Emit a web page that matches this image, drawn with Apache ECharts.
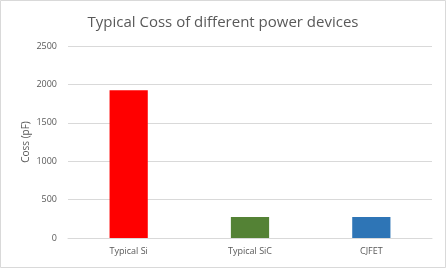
<!DOCTYPE html>
<html><head><meta charset="utf-8">
<script src="https://cdn.jsdelivr.net/npm/echarts@6/dist/echarts.min.js"></script>
<style>html,body{margin:0;padding:0;background:#fff}#c{width:446px;height:268px}</style>
</head><body><div id="c"></div>
<script>
const categories = ['Typical Si', 'Typical SiC', 'CJFET'];
const values = [1925, 275, 275];
const barColors = ['#FF0000', '#548235', '#2E75B6'];
const yTicks = [0, 500, 1000, 1500, 2000, 2500];

const chart = echarts.init(document.getElementById('c'), null, {renderer: 'canvas'});
chart.setOption({
  animation: false,
  backgroundColor: '#fff',
  textStyle: {fontFamily: 'Open Sans'},
  graphic: [{type: 'rect', shape: {x: 0.5, y: 0.5, width: 445, height: 267}, style: {fill: 'none', stroke: '#D9D9D9', lineWidth: 1}, z: -1}],
  title: {
    text: 'Typical Coss of different power devices',
    left: 'center', top: 10,
    textStyle: {fontSize: 15, fontWeight: 'normal', color: '#595959', fontFamily: 'Open Sans'}
  },
  grid: {left: 68, right: 14, top: 46, bottom: 30, containLabel: false},
  xAxis: {
    type: 'category', data: categories,
    axisLine: {lineStyle: {color: '#D9D9D9'}},
    axisTick: {show: false},
    axisLabel: {color: '#595959', fontSize: 9, margin: 9}
  },
  yAxis: {
    type: 'value', min: yTicks[0], max: yTicks[yTicks.length - 1], interval: 500,
    name: 'Coss (pF)', nameLocation: 'middle', nameGap: 37, nameRotate: 90,
    nameMoveOverlap: false,
    nameTextStyle: {color: '#595959', fontSize: 10},
    axisLine: {show: false}, axisTick: {show: false},
    axisLabel: {color: '#595959', fontSize: 9, margin: 11, formatter: v => String(v)},
    splitLine: {lineStyle: {color: '#D9D9D9'}}
  },
  series: [{
    type: 'bar', barWidth: '31.5%',
    data: values.map((v, i) => ({value: v, itemStyle: {color: barColors[i]}}))
  }]
});
</script></body></html>
